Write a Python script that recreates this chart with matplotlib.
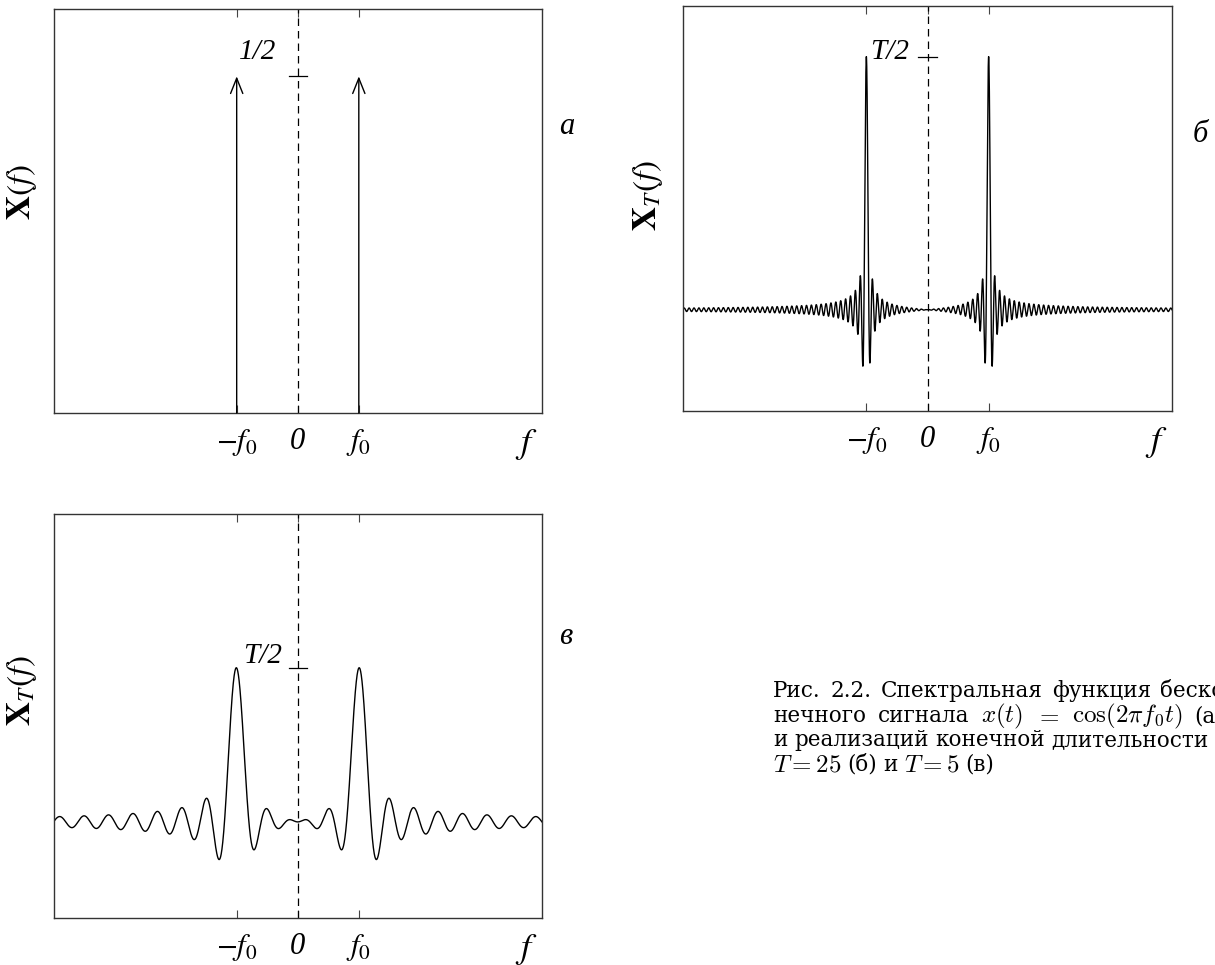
import matplotlib
matplotlib.use("Agg")
import matplotlib.pyplot as plt
import numpy as np

plt.rcParams['font.family'] = ['Liberation Serif', 'DejaVu Serif']
plt.rcParams['mathtext.fontset'] = 'stix'

# параметры сигнала cos(2*pi*f0*t)
f0 = 1.0
T_b = 25      # длительность реализации, панель б
T_v = 5       # длительность реализации, панель в
amp_a = 0.5   # высота дельта-функций на панели а

xlabels = [r'$-f_0$', '0', r'$f_0$']
xticks = [-f0, 0.0, f0]

f = np.linspace(-4 * f0, 4 * f0, 4001)


def spectr(T):
    # спектр отрезка косинуса длительности T
    return T / 2 * (np.sinc(T * (f - f0)) + np.sinc(T * (f + f0)))


X_b = spectr(T_b)
X_v = spectr(T_v)

W, H = 1215, 965
fig = plt.figure(figsize=(W / 100, H / 100), dpi=100)


def box(x0, y0, x1, y1):
    return [x0 / W, 1 - y1 / H, (x1 - x0) / W, (y1 - y0) / H]


def oformit(ax, ylim, ylev, ylab, lab_dx, lab_dy):
    ax.set_xlim(-4 * f0, 4 * f0)
    ax.set_ylim(*ylim)
    ax.axvline(0, color='k', lw=0.9, ls=(0, (6, 4)))
    ax.set_xticks(xticks)
    ax.set_xticklabels(xlabels, fontsize=22)
    ax.get_xticklabels()[1].set_fontstyle('italic')
    ax.set_yticks([])
    ax.tick_params(axis='x', direction='in', top=True, length=6, width=0.8,
                   color='#444444', pad=10)
    for s in ax.spines.values():
        s.set_color('#333333')
        s.set_linewidth(1.0)
    # короткая риска уровня на оси частот
    ax.plot([-0.15 * f0, 0.15 * f0], [ylev, ylev], color='k', lw=0.9)
    ax.annotate(ylab, xy=(lab_dx * f0, ylev), xytext=(0, lab_dy),
                textcoords='offset points', ha='right', va='bottom',
                fontsize=21, style='italic')
    ax.annotate(r'$f$', xy=(3.75 * f0, 0), xycoords=('data', 'axes fraction'),
                xytext=(0, -10), textcoords='offset points', ha='center',
                va='top', fontsize=26)


# а: спектр бесконечного сигнала
ax_a = fig.add_axes(box(53.5, 9, 542, 413))
for x in (-f0, f0):
    ax_a.annotate('', xy=(x, amp_a), xytext=(x, 0),
                  arrowprops=dict(arrowstyle='->,head_length=0.55,head_width=0.22',
                                  lw=1.0, color='k', shrinkA=0, shrinkB=0,
                                  mutation_scale=20))
oformit(ax_a, (0, 0.6), amp_a, '1/2', -0.35, 8)

# б: T = 25
ax_b = fig.add_axes(box(683, 6, 1172, 411))
ax_b.plot(f, X_b, color='k', lw=1.0)
oformit(ax_b, (-5, 15), T_b / 2, 'T/2', -0.3, -6)

# в: T = 5
ax_v = fig.add_axes(box(53.5, 514, 542, 918))
ax_v.plot(f, X_v, color='k', lw=1.0)
oformit(ax_v, (-1.56, 5.0), T_v / 2, 'T/2', -0.25, -1)

# подписи осей ординат
fig.text(22 / W, 1 - 192 / H, r'$\mathbf{X}(f)$', rotation=90, fontsize=24,
         ha='center', va='center')
fig.text(648 / W, 1 - 195 / H, r'$\mathbf{X}_T(f)$', rotation=90, fontsize=24,
         ha='center', va='center')
fig.text(22 / W, 1 - 690 / H, r'$\mathbf{X}_T(f)$', rotation=90, fontsize=24,
         ha='center', va='center')

# буквы панелей
for x, y, s in [(567, 127, 'а'), (1200, 135, 'б'), (566, 636, 'в')]:
    fig.text(x / W, 1 - y / H, s, fontsize=22, style='italic',
             ha='center', va='center')

# подпись к рисунку, строки выровнены по ширине
cap = dict(va='baseline', math_fontfamily='cm', family='DejaVu Serif')
stroki = [
    (697, 1232, ['Рис.', '2.2.', 'Спектральная', 'функция', 'беско-']),
    (722, 1224, ['нечного', 'сигнала', r'$x(t)$', r'$=$',
                 r'$\cos(2\pi f_0 t)$', '(а)']),
    (746, 1209, ['и', 'реализаций', 'конечной', 'длительности']),
    (771, None, [r'$T=25$', '(б)', 'и', r'$T=5$', '(в)']),
]
rend = fig.canvas.get_renderer()
x_lev = 773
for y, x_prav, slova in stroki:
    tt = [fig.text(0, 1 - y / H, s, fontsize=18 if s.startswith('$') else 15.5,
                   **cap) for s in slova]
    shir = [t.get_window_extent(rend).width for t in tt]
    if x_prav is None:
        prom = 6
    else:
        prom = (x_prav - x_lev - sum(shir)) / (len(tt) - 1)
    x = x_lev
    for t, w in zip(tt, shir):
        t.set_x(x / W)
        x += w + prom

fig.savefig('out.png', dpi=100)
